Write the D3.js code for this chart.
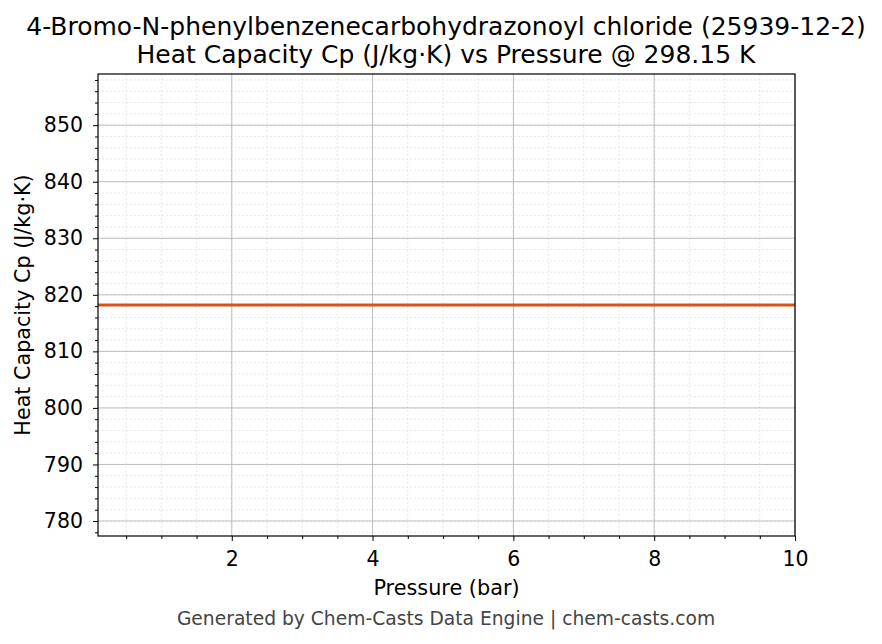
<!DOCTYPE html>
<html>
<head>
<meta charset="utf-8">
<script src="https://cdn.jsdelivr.net/npm/d3@7"></script>
<style>
  body { margin: 0; background: #fff; font-family: "DejaVu Sans", sans-serif; }
  svg text { font-family: "DejaVu Sans", sans-serif; fill: #000; }
</style>
</head>
<body>
<svg id="chart" width="882" height="644"></svg>
<script>
// series: constant Cp across pressure
var pressures = [0.1, 1, 2, 3, 4, 5, 6, 7, 8, 9, 10];
var cpValues = [818.2, 818.2, 818.2, 818.2, 818.2, 818.2, 818.2, 818.2, 818.2, 818.2, 818.2];
var xTicks = [2, 4, 6, 8, 10];
var yTicks = [780, 790, 800, 810, 820, 830, 840, 850];
var titleLines = [
  '4-Bromo-N-phenylbenzenecarbohydrazonoyl chloride (25939-12-2)',
  'Heat Capacity Cp (J/kg\u00b7K) vs Pressure @ 298.15 K'
];

var margin = { left: 98, right: 87, top: 74, bottom: 108 };
var width = 882 - margin.left - margin.right;
var height = 644 - margin.top - margin.bottom;

var svg = d3.select('#chart');
var g = svg.append('g').attr('transform', 'translate(' + margin.left + ',' + margin.top + ')');

var x = d3.scaleLinear().domain([0.1, 10]).range([0, width]);
var y = d3.scaleLinear().domain([777.35, 859.05]).range([height, 0]);

var xMinor = d3.range(0.5, 10.01, 0.5);
var yMinor = d3.range(778, 859, 2);

// minor grid
g.append('g').selectAll('line').data(xMinor).enter().append('line')
  .attr('x1', function(d) { return x(d); }).attr('x2', function(d) { return x(d); })
  .attr('y1', 0).attr('y2', height)
  .attr('stroke', '#dedede').attr('stroke-width', 0.7).attr('stroke-dasharray', '2,2');
g.append('g').selectAll('line').data(yMinor).enter().append('line')
  .attr('y1', function(d) { return y(d); }).attr('y2', function(d) { return y(d); })
  .attr('x1', 0).attr('x2', width)
  .attr('stroke', '#dedede').attr('stroke-width', 0.7).attr('stroke-dasharray', '2,2');

// major grid
g.append('g').selectAll('line').data(xTicks).enter().append('line')
  .attr('x1', function(d) { return x(d); }).attr('x2', function(d) { return x(d); })
  .attr('y1', 0).attr('y2', height)
  .attr('stroke', '#b0b0b0').attr('stroke-width', 0.8);
g.append('g').selectAll('line').data(yTicks).enter().append('line')
  .attr('y1', function(d) { return y(d); }).attr('y2', function(d) { return y(d); })
  .attr('x1', 0).attr('x2', width)
  .attr('stroke', '#b0b0b0').attr('stroke-width', 0.8);

// data line
var line = d3.line()
  .x(function(d, i) { return x(pressures[i]); })
  .y(function(d) { return y(d); });
g.append('path')
  .datum(cpValues)
  .attr('fill', 'none')
  .attr('stroke', '#d95319')
  .attr('stroke-width', 3)
  .attr('d', line);

// axes
g.append('g')
  .attr('transform', 'translate(0,' + height + ')')
  .call(d3.axisBottom(x).tickValues(xTicks).tickSize(5).tickPadding(10).tickFormat(d3.format('d')));
g.append('g')
  .call(d3.axisLeft(y).tickValues(yTicks).tickSize(5).tickPadding(10).tickFormat(d3.format('d')));
g.append('g')
  .attr('transform', 'translate(0,' + height + ')')
  .call(d3.axisBottom(x).tickValues(xMinor.filter(function(d) { return xTicks.indexOf(d) < 0; })).tickSize(3).tickFormat(''));
g.append('g')
  .call(d3.axisLeft(y).tickValues(yMinor.filter(function(d) { return yTicks.indexOf(d) < 0; })).tickSize(3).tickFormat(''));

g.selectAll('.domain').remove();
g.selectAll('.tick line').attr('stroke', '#000').attr('stroke-width', 1);
g.selectAll('.tick text').attr('font-size', '20.5px').attr('fill', '#000');

// frame
g.append('rect')
  .attr('width', width).attr('height', height)
  .attr('fill', 'none').attr('stroke', '#000').attr('stroke-width', 1.2);

// titles
svg.append('text').attr('x', 446).attr('y', 35).attr('text-anchor', 'middle')
  .attr('font-size', '25px').text(titleLines[0]);
svg.append('text').attr('x', 446).attr('y', 63).attr('text-anchor', 'middle')
  .attr('font-size', '25px').text(titleLines[1]);

svg.append('text').attr('x', margin.left + width / 2).attr('y', 595).attr('text-anchor', 'middle')
  .attr('font-size', '20.8px').text('Pressure (bar)');
svg.append('text')
  .attr('transform', 'translate(30,' + (margin.top + height / 2) + ') rotate(-90)')
  .attr('text-anchor', 'middle').attr('font-size', '20.7px').text('Heat Capacity Cp (J/kg\u00b7K)');

svg.append('text').attr('x', 446).attr('y', 625).attr('text-anchor', 'middle')
  .attr('font-size', '18.7px').style('fill', '#444').text('Generated by Chem-Casts Data Engine | chem-casts.com');
</script>
</body>
</html>
